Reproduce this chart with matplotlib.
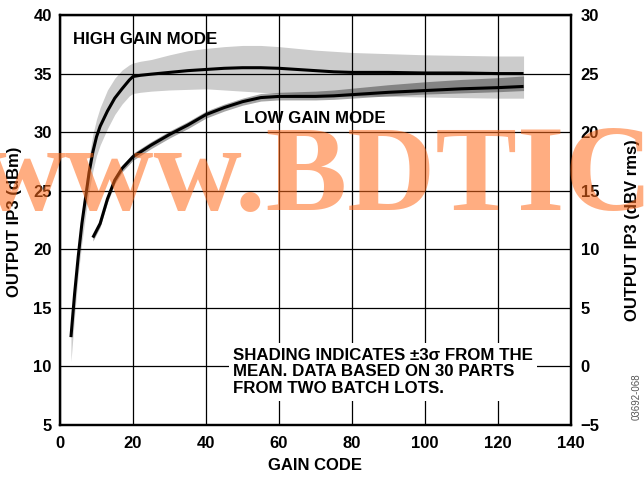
import numpy as np
import matplotlib
matplotlib.use("Agg")
import matplotlib.pyplot as plt

plt.rcParams['font.family'] = ['Liberation Sans', 'DejaVu Sans']
plt.rcParams['font.weight'] = 'bold'
plt.rcParams['axes.labelweight'] = 'bold'

# high gain mode: mean and +/-3 sigma envelope (dBm)
hi_code = [3, 4, 5, 6, 7, 8, 9, 10, 11, 13, 15, 17, 19, 20, 22, 25, 30, 35, 40, 45, 50, 55, 60,
           65, 70, 75, 80, 90, 100, 110, 120, 127]
hi_mean = [12.5, 16.2, 19.4, 22.2, 24.4, 26.6, 28.3, 29.6, 30.5, 31.8, 32.9, 33.7, 34.45, 34.75,
           34.85, 34.95, 35.1, 35.25, 35.35, 35.45, 35.5, 35.5, 35.45, 35.35, 35.25, 35.15, 35.1,
           35.1, 35.05, 35.05, 35.0, 35.0]
hi_upper = [12.8, 16.8, 20.2, 23.2, 25.6, 27.9, 29.8, 31.1, 32.1, 33.6, 34.6, 35.3, 35.75, 35.9,
            36.05, 36.2, 36.6, 36.95, 37.15, 37.3, 37.4, 37.4, 37.3, 37.15, 37.0, 36.9, 36.8,
            36.7, 36.6, 36.55, 36.5, 36.5]
hi_lower = [10.4, 14.3, 17.9, 20.6, 22.9, 25.0, 26.7, 28.0, 28.9, 30.3, 31.5, 32.4, 33.1, 33.3,
            33.4, 33.5, 33.6, 33.65, 33.7, 33.6, 33.5, 33.4, 33.3, 33.2, 33.15, 33.1, 33.1,
            33.05, 33.0, 32.95, 32.9, 32.9]

# low gain mode
lo_code = [9, 11, 13, 15, 17, 20, 25, 30, 35, 40, 45, 50, 55, 60, 65, 70, 75, 80, 90, 100, 110,
           120, 127]
lo_mean = [21.0, 22.2, 24.3, 25.9, 26.9, 27.9, 28.9, 29.8, 30.6, 31.5, 32.1, 32.6, 32.95, 33.05,
           33.05, 33.05, 33.1, 33.2, 33.4, 33.55, 33.7, 33.8, 33.9]
lo_upper = [21.3, 22.5, 24.6, 26.2, 27.2, 28.2, 29.2, 30.1, 30.9, 31.8, 32.4, 32.9, 33.3, 33.4,
            33.45, 33.5, 33.6, 33.75, 34.05, 34.3, 34.5, 34.65, 34.8]
lo_lower = [20.7, 21.9, 24.0, 25.6, 26.6, 27.6, 28.6, 29.5, 30.3, 31.2, 31.8, 32.3, 32.65, 32.75,
            32.75, 32.75, 32.8, 32.9, 33.1, 33.25, 33.35, 33.45, 33.55]

x_ticks = [0, 20, 40, 60, 80, 100, 120, 140]
y_ticks = [5, 10, 15, 20, 25, 30, 35, 40]
y2_ticks = [-5, 0, 5, 10, 15, 20, 25, 30]

fig = plt.figure(figsize=(6.44, 4.78), dpi=100)
ax = fig.add_axes([60 / 644, 53 / 478, 511 / 644, 410 / 478])

ax.fill_between(hi_code, hi_lower, hi_upper, color='#cccccc', lw=0, zorder=1)
ax.fill_between(lo_code, lo_lower, lo_upper, color='black', alpha=0.35, lw=0, zorder=1.2)
ax.plot(hi_code, hi_mean, color='black', lw=2.2, zorder=3, solid_capstyle='butt')
ax.plot(lo_code, lo_mean, color='black', lw=2.2, zorder=3, solid_capstyle='butt')

ax.set_xlim(0, 140)
ax.set_ylim(5, 40)
ax.set_xticks(x_ticks)
ax.set_yticks(y_ticks)
ax.set_axisbelow(False)
ax.grid(True, color='black', lw=0.9)
ax.tick_params(length=0, labelsize=12, pad=6)
ax.tick_params(axis='x', pad=8)
for s in ax.spines.values():
    s.set_linewidth(1.6)

ax2 = ax.twinx()
ax2.set_ylim(-5, 30)
ax2.set_yticks(y2_ticks)
ax2.tick_params(length=0, labelsize=12, pad=7)
for s in ax2.spines.values():
    s.set_linewidth(1.6)

for lbl in ax.get_xticklabels() + ax.get_yticklabels() + ax2.get_yticklabels():
    lbl.set_fontweight('bold')

ax.set_xlabel('GAIN CODE', fontsize=12, fontweight='bold', labelpad=5)
fig.text(15 / 644, 1 - 222 / 478, 'OUTPUT IP3 (dBm)', rotation=90, fontsize=12,
         fontweight='bold', ha='center', va='center')
fig.text(633 / 644, 1 - 230 / 478, 'OUTPUT IP3 (dBV rms)', rotation=90, fontsize=12,
         fontweight='bold', ha='center', va='center')
fig.text(637 / 644, 1 - 397 / 478, '03692-068', rotation=90, fontsize=7, fontweight='normal',
         color='#555555', ha='center', va='center')

ax.text(3.6, 37.9, 'HIGH GAIN MODE', fontsize=12.2, fontweight='bold', va='center', ha='left',
        zorder=4)
ax.text(50.5, 31.2, 'LOW GAIN MODE', fontsize=12.2, fontweight='bold', va='center', ha='left',
        zorder=4)
ax.text(47.5, 11.6, 'SHADING INDICATES \u00b13\u03c3 FROM THE\nMEAN. DATA BASED ON 30 PARTS\n'
        'FROM TWO BATCH LOTS.', fontsize=12.2, fontweight='bold', va='top', ha='left',
        linespacing=1.15, zorder=4, bbox=dict(facecolor='white', edgecolor='none', pad=3))

# watermark
fig.text(-0.034, 1 - 210 / 478, 'www.BDTIC', fontfamily='Liberation Serif', fontweight='bold',
         fontsize=88, color='#ff6a1a', alpha=0.55, ha='left', va='baseline', zorder=10)

fig.savefig('out.png', dpi=100)
